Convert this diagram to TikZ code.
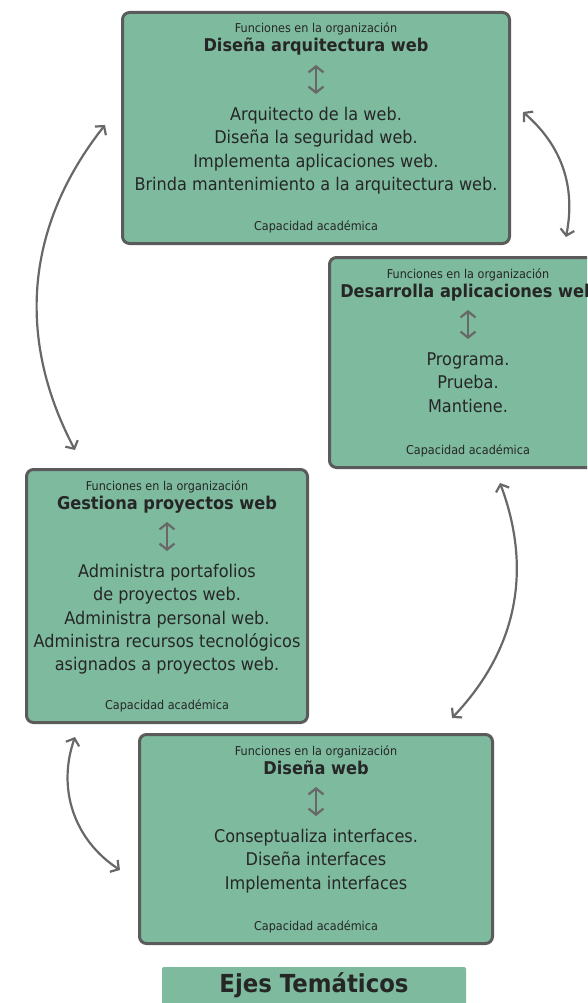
\documentclass[tikz,border=0pt]{standalone}
\usepackage{fontspec}
\setmainfont{DejaVu Sans}[FakeStretch=0.92]
\usetikzlibrary{arrows.meta}
\definecolor{ejefill}{HTML}{7DBA9E}
\definecolor{ejeline}{HTML}{5B5B5B}
\definecolor{flecha}{HTML}{686868}
\definecolor{texto}{HTML}{262626}

\begin{document}
\begin{tikzpicture}[x=1pt, y=-1pt,
	eje/.style={draw=ejeline, line width=3pt, fill=ejefill, rounded corners=7pt},
	funcion/.style={font=\fontsize{12.2}{14}\selectfont, text=texto, anchor=base, inner sep=0pt},
	titulo/.style={font=\fontsize{17.6}{20}\selectfont\bfseries, text=texto, anchor=base, inner sep=0pt},
	linea/.style={font=\fontsize{17.5}{20}\selectfont, text=texto, anchor=base, inner sep=0pt},
	updown/.style={draw=flecha, line width=2.2pt, {Straight Barb[length=6pt,width=15pt]}-{Straight Barb[length=6pt,width=15pt]}},
	ciclo/.style={draw=flecha, line width=2.2pt, {Straight Barb[length=6pt,width=14pt]}-{Straight Barb[length=6pt,width=14pt]}}]

\useasboundingbox (0,0) rectangle (587,1003);
\clip (0,0) rectangle (587,1003);

% boxes
\node[eje, minimum width=387pt, minimum height=231pt] (b1) at (316,128) {};
\node[eje, minimum width=277pt, minimum height=210pt] (b2) at (468,362.5) {};
\node[eje, minimum width=281pt, minimum height=253pt] (b3) at (167,596) {};
\node[eje, minimum width=353pt, minimum height=209pt] (b4) at (316,839) {};

% Diseña arquitectura web
\node[funcion] (b1f) at ([yshift=-22pt]b1.north) {Funciones en la organización};
\node[titulo] (b1t) at ([yshift=-41pt]b1.north) {Diseña arquitectura web};
\coordinate (b1a) at ([yshift=-54pt]b1.north);
\coordinate (b1b) at ([yshift=-83pt]b1.north);
\draw[updown] (b1a) -- (b1b);
\foreach \t [count=\i] in {Arquitecto de la web., Diseña la seguridad web.,
	Implementa aplicaciones web., Brinda mantenimiento a la arquitectura web.} {
	\node[linea] (b1l\i) at ([yshift={-109.5pt-23.3pt*(\i-1)}]b1.north) {\t};
}
\node[funcion] (b1p) at ([yshift=14.5pt]b1.south) {Capacidad académica};

% Desarrolla aplicaciones web
\node[funcion] (b2f) at ([yshift=-22pt]b2.north) {Funciones en la organización};
\node[titulo] (b2t) at ([yshift=-41pt]b2.north) {Desarrolla aplicaciones web};
\coordinate (b2a) at ([yshift=-54pt]b2.north);
\coordinate (b2b) at ([yshift=-83pt]b2.north);
\draw[updown] (b2a) -- (b2b);
\foreach \t [count=\i] in {Programa., Prueba., Mantiene.} {
	\node[linea] (b2l\i) at ([yshift={-109.5pt-23.3pt*(\i-1)}]b2.north) {\t};
}
\node[funcion] (b2p) at ([yshift=14.5pt]b2.south) {Capacidad académica};

% Gestiona proyectos web
\node[funcion] (b3f) at ([yshift=-22pt]b3.north) {Funciones en la organización};
\node[titulo] (b3t) at ([yshift=-41pt]b3.north) {Gestiona proyectos web};
\coordinate (b3a) at ([yshift=-54pt]b3.north);
\coordinate (b3b) at ([yshift=-83pt]b3.north);
\draw[updown] (b3a) -- (b3b);
\foreach \t [count=\i] in {Administra portafolios, de proyectos web.,
	Administra personal web., Administra recursos tecnológicos,
	asignados a proyectos web.} {
	\node[linea] (b3l\i) at ([yshift={-109.5pt-23.3pt*(\i-1)}]b3.north) {\t};
}
\node[funcion] (b3p) at ([yshift=14.5pt]b3.south) {Capacidad académica};

% Diseña web
\node[funcion] (b4f) at ([yshift=-22pt]b4.north) {Funciones en la organización};
\node[titulo] (b4t) at ([yshift=-41pt]b4.north) {Diseña web};
\coordinate (b4a) at ([yshift=-54pt]b4.north);
\coordinate (b4b) at ([yshift=-83pt]b4.north);
\draw[updown] (b4a) -- (b4b);
\foreach \t [count=\i] in {Conseptualiza interfaces., Diseña interfaces,
	Implementa interfaces} {
	\node[linea] (b4l\i) at ([yshift={-109.5pt-23.3pt*(\i-1)}]b4.north) {\t};
}
\node[funcion] (b4p) at ([yshift=14.5pt]b4.south) {Capacidad académica};

% cycle arrows
\coordinate (c1a) at (523,112);
\coordinate (c1b) at (566,237);
\draw[ciclo] (c1a) to[bend left=30] (c1b);
\coordinate (c2a) at (105,125);
\coordinate (c2b) at (75,450);
\draw[ciclo] (c2a) to[bend right=33] (c2b);
\coordinate (c3a) at (500,483);
\coordinate (c3b) at (452,718);
\draw[ciclo] (c3a) to[bend left=32] (c3b);
\coordinate (c4a) at (75,737);
\coordinate (c4b) at (120,870);
\draw[ciclo] (c4a) to[bend right=38] (c4b);

% banner
\node[fill=ejefill, rounded corners=2pt, minimum width=304pt, minimum height=46pt] (ejes) at (314,990) {};
\node[font=\fontsize{24.8}{28}\selectfont\bfseries, text=texto, anchor=base, inner sep=0pt] (ejest) at (314,992) {Ejes Temáticos};

\end{tikzpicture}
\end{document}
